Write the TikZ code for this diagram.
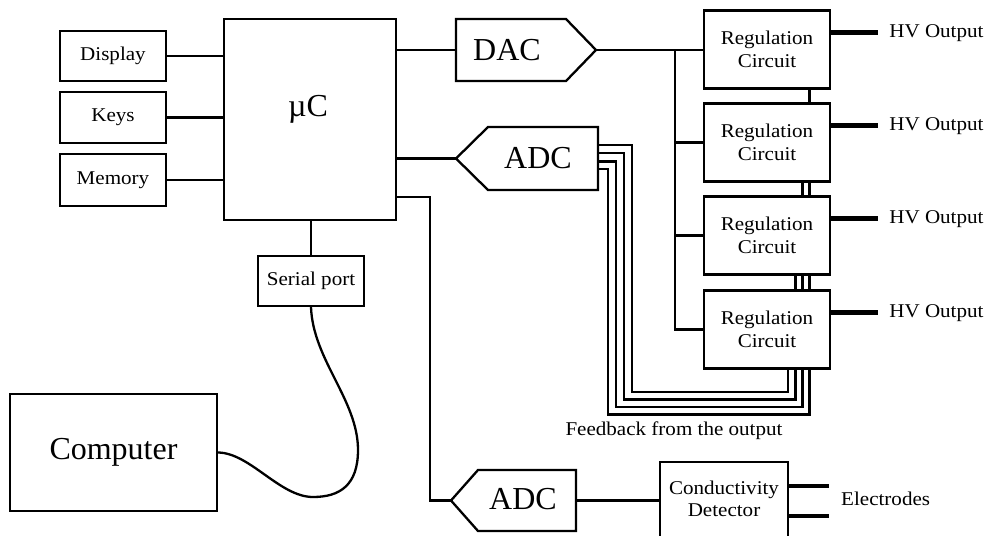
\documentclass[tikz,border=0pt]{standalone}
\usepackage{fontspec}
\setmainfont{Liberation Serif}
\newfontfamily\smallfam[FakeStretch=1.08]{Liberation Serif}
\usetikzlibrary{calc}
\pgfdeclarelayer{background}
\pgfsetlayers{background,main}
\begin{document}
\begin{tikzpicture}[x=1pt,y=-1pt,
  box/.style={draw, fill=white, line width=2.3pt, inner sep=0pt},
  wire/.style={line width=2.3pt},
  fbwire/.style={line width=2.1pt},
  thickwire/.style={line width=4.8pt},
  smalltxt/.style={font=\smallfam\fontsize{19.5}{22.5}\selectfont, align=center, inner sep=0pt},
  bigtxt/.style={font=\fontsize{32}{36}\selectfont, inner sep=0pt},
  ghost/.style={inner sep=0pt, outer sep=0pt}]
\useasboundingbox (0,0) rectangle (989,536);
\clip (0,0) rectangle (989,536);

% left peripherals
\node[box, smalltxt, minimum width=106pt, minimum height=50pt] (disp) at (113,56) {Display};
\node[box, smalltxt, minimum width=106pt, minimum height=51pt] (keys) at (113,117.5) {Keys};
\node[box, smalltxt, minimum width=106pt, minimum height=52pt] (mem) at (113,180) {Memory};

% microcontroller
\node[box, minimum width=172pt, minimum height=201pt] (uc) at (310,119.5) {};
\node[bigtxt] (uctext) at (308,109) {µC};

% serial port and computer
\node[box, smalltxt, minimum width=106pt, minimum height=50pt] (serial) at (311,281) {Serial port};
\node[box, bigtxt, minimum width=207pt, minimum height=117pt] (comp) at (113.5,452.5) {Computer};

% DAC
\node[ghost, minimum width=110pt, minimum height=62pt] (dac) at (511,50) {};
\draw[wire, fill=white] (dac.north west) -- (dac.north east) -- ($(dac.east)+(30,0)$) coordinate (dactip)
   -- (dac.south east) -- (dac.south west) -- cycle;
\node[bigtxt] (dactext) at (507,50) {DAC};

% upper ADC
\node[ghost, minimum width=110pt, minimum height=63pt] (adc1) at (543,158.5) {};
\draw[wire, fill=white] (adc1.north east) -- (adc1.north west) -- ($(adc1.west)+(-32,0)$) coordinate (adc1tip)
   -- (adc1.south west) -- (adc1.south east) -- cycle;
\node[bigtxt] (adc1text) at (538,158) {ADC};

% lower ADC
\node[ghost, minimum width=98pt, minimum height=61pt] (adc2) at (527,500.5) {};
\draw[wire, fill=white] (adc2.north east) -- (adc2.north west) -- ($(adc2.west)+(-27,0)$) coordinate (adc2tip)
   -- (adc2.south west) -- (adc2.south east) -- cycle;
\node[bigtxt] (adc2text) at (523,499) {ADC};

% regulation circuits
\foreach \i/\y in {1/49.5,2/142.5,3/235.5,4/329.5}{
  \node[box, smalltxt, minimum width=126pt, minimum height=78pt] (reg\i) at (767,\y) {Regulation\\Circuit};
}

% HV outputs
\foreach \i in {1,2,3,4}{
  \coordinate (hv\i) at ($(reg\i.north east)+(0,23.5)$);
  \coordinate (hve\i) at ($(hv\i)+(47,0)$);
  \draw[thickwire] (hv\i) -- (hve\i);
  \node[smalltxt, anchor=west] (hvt\i) at ($(hve\i)+(11,0)$) {HV Output};
}

% conductivity detector
\node[box, minimum width=128pt, minimum height=98pt] (cond) at (724,511) {};
\node[smalltxt] (condtext) at (724,499) {Conductivity\\Detector};
\coordinate (el1) at (829,486);
\coordinate (el2) at (829,516);
\draw[thickwire] (el1 -| cond.east) -- (el1);
\draw[thickwire] (el2 -| cond.east) -- (el2);
\node[smalltxt, anchor=west] (electxt) at (841,499) {Electrodes};

% feedback label
\node[smalltxt] (fbtext) at (674,431) {Feedback from the output};

% connections
\draw[wire] (disp.east) -- (disp.east -| uc.west);
\draw[wire] (keys.east) -- (keys.east -| uc.west);
\draw[wire] (mem.east) -- (mem.east -| uc.west);
\draw[wire] (dac.west -| uc.east) -- (dac.west);
\draw[wire] (adc1tip -| uc.east) -- (adc1tip);
\coordinate (c2) at (430,197);
\draw[wire] (c2 -| uc.east) -- (c2) |- (adc2tip);
\draw[wire] (serial.north) -- (serial.north |- uc.south);
\draw[wire] (serial.south) .. controls (313,360) and (358,400) .. (358,450)
   .. controls (358,485) and (340,497) .. (313,497)
   .. controls (280,497) and (250,453) .. (comp.east);
\draw[wire] (dactip) -- (dactip -| reg1.west);
\coordinate (bus) at (675,50);
\draw[wire] (bus) |- (reg4.west);
\draw[wire] (bus |- reg2.west) -- (reg2.west);
\draw[wire] (bus |- reg3.west) -- (reg3.west);
\draw[wire] (adc2.east) -- (adc2.east -| cond.west);

% feedback bundle
\coordinate (f4) at (788,0);
\coordinate (f3) at (795.5,0);
\coordinate (f2) at (802.5,0);
\coordinate (f1) at (809.5,0);
\begin{pgfonlayer}{background}
\draw[fbwire] ($(adc1.north east)+(0,18)$) -| (632,392) -| (reg4.south -| f4);
\draw[fbwire] ($(adc1.north east)+(0,26)$) -| (624,399.5) -| (reg3.south -| f3);
\draw[fbwire] ($(adc1.north east)+(0,34.5)$) -| (616,407) -| (reg2.south -| f2);
\draw[fbwire] ($(adc1.north east)+(0,42)$) -| (608,414.5) -| (reg1.south -| f1);
\end{pgfonlayer}
\end{tikzpicture}
\end{document}
